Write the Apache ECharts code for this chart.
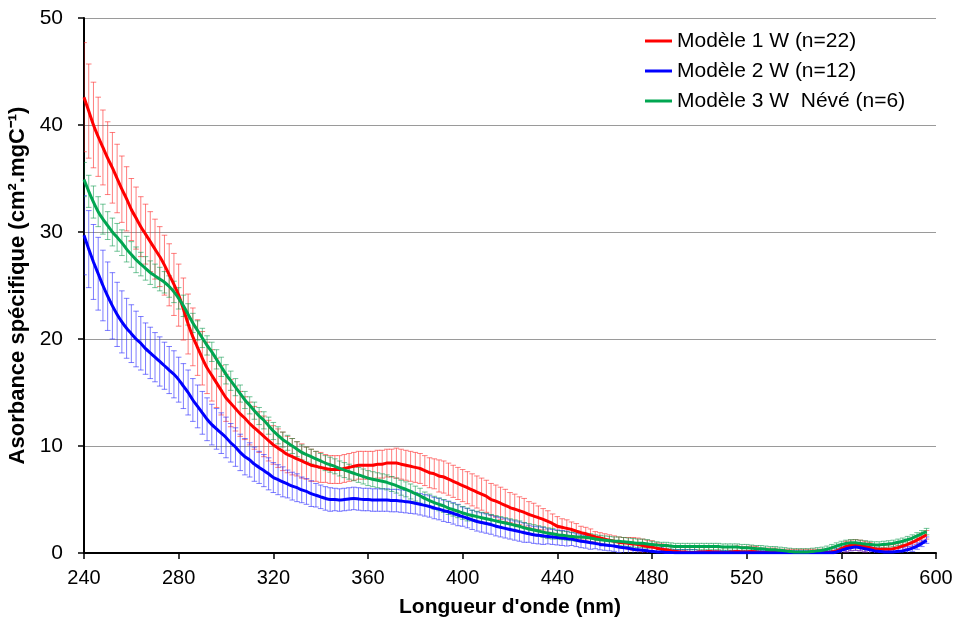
<!DOCTYPE html>
<html><head><meta charset="utf-8">
<script src="https://cdn.jsdelivr.net/npm/echarts@6/dist/echarts.min.js"></script>
<style>html,body{margin:0;padding:0;background:#fff}#c{width:957px;height:619px}</style>
</head><body><div id="c"></div>
<script>
const wavelengths = [
240,242,244,246,248,250,252,254,256,258,
260,262,264,266,268,270,272,274,276,278,
280,282,284,286,288,290,292,294,296,298,
300,302,304,306,308,310,312,314,316,318,
320,322,324,326,328,330,332,334,336,338,
340,342,344,346,348,350,352,354,356,358,
360,362,364,366,368,370,372,374,376,378,
380,382,384,386,388,390,392,394,396,398,
400,402,404,406,408,410,412,414,416,418,
420,422,424,426,428,430,432,434,436,438,
440,442,444,446,448,450,452,454,456,458,
460,462,464,466,468,470,472,474,476,478,
480,482,484,486,488,490,492,494,496,498,
500,502,504,506,508,510,512,514,516,518,
520,522,524,526,528,530,532,534,536,538,
540,542,544,546,548,550,552,554,556,558,
560,562,564,566,568,570,572,574,576,578,
580,582,584,586,588,590,592,594,596
];
const seriesNames = ['Modèle 1 W (n=22)', 'Modèle 2 W (n=12)', 'Modèle 3 W  Névé (n=6)'];

const mean1 = [
42.6,41.3,40.0,38.9,37.9,36.9,36.0,35.0,34.0,33.1,
32.1,31.3,30.5,29.8,29.1,28.4,27.7,26.9,26.0,25.1,
24.1,22.8,21.4,20.2,19.2,18.2,17.3,16.6,15.9,15.2,
14.5,14.0,13.5,13.0,12.6,12.1,11.7,11.3,10.9,10.5,
10.1,9.8,9.5,9.2,9.0,8.8,8.6,8.4,8.2,8.1,
8.0,7.9,7.8,7.8,7.8,7.9,8.0,8.1,8.2,8.2,
8.2,8.2,8.3,8.3,8.4,8.4,8.4,8.3,8.2,8.1,
8.0,7.9,7.7,7.5,7.4,7.2,7.1,6.9,6.7,6.5,
6.3,6.1,5.9,5.7,5.5,5.3,5.0,4.85,4.65,4.45,
4.25,4.1,3.95,3.8,3.6,3.45,3.3,3.15,2.95,2.75,
2.5,2.4,2.3,2.2,2.05,1.9,1.8,1.65,1.5,1.4,
1.3,1.2,1.1,1.0,0.95,0.9,0.85,0.8,0.7,0.6,
0.55,0.45,0.35,0.3,0.2,0.15,0.1,0.1,0.05,0.05,
0.1,0.1,0.15,0.1,0.1,0.05,0.05,0.1,0.15,0.1,
0.1,0.15,0.1,0.05,0.05,0.05,0.05,0.05,0.05,0.05,
0.05,0.05,0.05,0.05,0.05,0.05,0.05,0.05,0.1,0.2,
0.4,0.6,0.72,0.75,0.7,0.6,0.5,0.4,0.35,0.35,
0.35,0.4,0.5,0.65,0.8,1.0,1.2,1.45,1.7
];
const sd1 = [
5.1,4.4,4.0,3.7,3.5,3.4,3.3,3.2,3.1,3.0,
2.9,2.9,2.8,2.8,2.8,2.8,2.8,2.8,2.9,2.9,
2.9,2.9,2.8,2.7,2.6,2.5,2.4,2.4,2.3,2.3,
2.2,2.2,2.1,2.1,2.0,2.0,2.0,1.9,1.9,1.9,
1.8,1.8,1.8,1.7,1.7,1.6,1.6,1.5,1.5,1.4,
1.4,1.3,1.3,1.3,1.3,1.3,1.3,1.3,1.3,1.3,
1.3,1.3,1.3,1.3,1.3,1.3,1.4,1.4,1.4,1.4,
1.4,1.4,1.4,1.4,1.4,1.5,1.5,1.5,1.5,1.5,
1.5,1.5,1.5,1.5,1.5,1.5,1.5,1.5,1.5,1.5,
1.4,1.4,1.3,1.3,1.2,1.2,1.1,1.0,1.0,0.9,
0.9,0.8,0.8,0.7,0.7,0.6,0.6,0.6,0.5,0.5,
0.5,0.5,0.5,0.5,0.5,0.55,0.6,0.6,0.6,0.6,
0.6,0.5,0.5,0.5,0.5,0.5,0.5,0.5,0.5,0.5,
0.5,0.5,0.5,0.5,0.5,0.5,0.5,0.5,0.5,0.5,
0.5,0.5,0.5,0.4,0.4,0.4,0.4,0.3,0.3,0.3,
0.3,0.3,0.3,0.3,0.3,0.3,0.3,0.3,0.3,0.4,
0.4,0.5,0.5,0.5,0.5,0.5,0.5,0.4,0.4,0.4,
0.4,0.4,0.4,0.4,0.4,0.4,0.4,0.4,0.4
];

const mean2 = [
29.7,28.4,27.2,26.1,25.0,24.0,23.1,22.3,21.6,21.0,
20.5,20.0,19.6,19.1,18.7,18.3,17.9,17.5,17.1,16.7,
16.2,15.6,15.0,14.3,13.7,13.1,12.5,12.0,11.6,11.2,
10.8,10.3,9.9,9.4,9.0,8.7,8.3,8.0,7.7,7.4,
7.05,6.85,6.65,6.45,6.25,6.1,5.9,5.75,5.55,5.4,
5.25,5.1,5.0,5.0,4.95,5.0,5.05,5.1,5.05,5.0,
5.0,4.95,4.95,4.95,4.95,4.9,4.9,4.85,4.8,4.75,
4.65,4.55,4.45,4.35,4.2,4.1,3.95,3.85,3.7,3.55,
3.4,3.25,3.1,2.95,2.85,2.75,2.65,2.5,2.4,2.3,
2.2,2.1,2.0,1.9,1.8,1.7,1.65,1.6,1.55,1.5,
1.45,1.4,1.35,1.3,1.2,1.1,1.05,0.95,0.9,0.8,
0.75,0.7,0.65,0.55,0.5,0.45,0.35,0.3,0.25,0.2,
0.15,0.1,0.1,0.05,0.05,0.02,0.02,0.02,0.02,0.02,
0.02,0.02,0.02,0.02,0.02,0.02,0.02,0.02,0.02,0.02,
0.02,0.02,0.02,0.02,0.02,0.02,0.02,0.02,0.02,0.02,
0.02,0.02,0.02,0.02,0.02,0.02,0.02,0.02,0.02,0.1,
0.25,0.4,0.5,0.55,0.5,0.4,0.3,0.2,0.15,0.1,
0.1,0.1,0.15,0.2,0.3,0.45,0.65,0.9,1.2
];
const sd2 = [
3.7,3.6,3.5,3.4,3.3,3.2,3.1,3.0,2.9,2.8,
2.7,2.6,2.5,2.4,2.4,2.3,2.3,2.2,2.2,2.2,
2.1,2.1,2.1,2.0,2.0,2.0,2.0,1.9,1.9,1.9,
1.9,1.8,1.8,1.7,1.7,1.6,1.6,1.5,1.5,1.5,
1.4,1.4,1.4,1.3,1.3,1.3,1.2,1.2,1.2,1.1,
1.1,1.1,1.1,1.05,1.05,1.05,1.05,1.05,1.05,1.05,
1.05,1.05,1.05,1.05,1.05,1.05,1.05,1.05,1.05,1.05,
1.0,1.0,1.0,1.0,1.0,1.0,1.0,1.0,1.0,1.0,
0.9,0.9,0.9,0.9,0.9,0.9,0.9,0.9,0.9,0.9,
0.9,0.9,0.9,0.9,0.8,0.8,0.8,0.8,0.7,0.7,
0.7,0.7,0.7,0.6,0.6,0.6,0.6,0.6,0.5,0.5,
0.5,0.5,0.5,0.5,0.5,0.5,0.5,0.5,0.5,0.5,
0.4,0.4,0.4,0.3,0.3,0.3,0.3,0.3,0.3,0.3,
0.2,0.2,0.2,0.2,0.2,0.2,0.2,0.2,0.2,0.2,
0.2,0.2,0.2,0.2,0.2,0.2,0.2,0.2,0.2,0.2,
0.2,0.2,0.2,0.2,0.2,0.2,0.2,0.2,0.2,0.3,
0.3,0.3,0.3,0.3,0.3,0.3,0.3,0.3,0.3,0.3,
0.3,0.3,0.3,0.3,0.3,0.3,0.3,0.3,0.3
];

const mean3 = [
34.9,33.8,32.8,31.9,31.2,30.6,30.0,29.5,29.0,28.4,
27.9,27.4,27.0,26.6,26.2,25.9,25.6,25.3,24.9,24.4,
23.8,23.1,22.3,21.5,20.8,20.1,19.4,18.8,18.1,17.4,
16.7,16.1,15.5,14.9,14.3,13.8,13.3,12.8,12.4,11.9,
11.4,11.0,10.6,10.3,10.0,9.7,9.4,9.2,9.0,8.8,
8.6,8.4,8.25,8.1,7.9,7.75,7.6,7.45,7.3,7.15,
7.0,6.9,6.8,6.7,6.6,6.45,6.3,6.1,5.95,5.75,
5.55,5.35,5.1,4.9,4.7,4.55,4.4,4.2,4.05,3.9,
3.75,3.6,3.5,3.4,3.3,3.2,3.1,3.0,2.9,2.8,
2.7,2.6,2.5,2.35,2.25,2.15,2.05,1.95,1.85,1.8,
1.7,1.65,1.6,1.55,1.5,1.5,1.45,1.4,1.3,1.25,
1.2,1.15,1.1,1.1,1.05,1.0,0.95,0.9,0.9,0.85,
0.8,0.75,0.7,0.7,0.65,0.6,0.6,0.6,0.6,0.6,
0.6,0.6,0.6,0.6,0.6,0.55,0.55,0.55,0.55,0.5,
0.5,0.45,0.4,0.4,0.35,0.3,0.3,0.25,0.2,0.15,
0.1,0.1,0.1,0.1,0.15,0.2,0.25,0.35,0.5,0.65,
0.8,0.9,0.95,0.95,0.9,0.85,0.8,0.75,0.75,0.8,
0.85,0.9,1.0,1.1,1.25,1.4,1.6,1.8,2.0
];
const sd3 = [
1.6,1.5,1.5,1.4,1.4,1.3,1.3,1.3,1.2,1.2,
1.2,1.2,1.1,1.1,1.1,1.1,1.1,1.0,1.0,1.0,
1.0,1.0,1.0,0.9,0.9,0.9,0.9,0.9,0.9,0.9,
0.9,0.9,0.8,0.8,0.8,0.8,0.8,0.8,0.8,0.8,
0.8,0.8,0.7,0.7,0.7,0.7,0.7,0.7,0.7,0.7,
0.7,0.7,0.7,0.7,0.7,0.7,0.7,0.7,0.7,0.7,
0.7,0.7,0.7,0.7,0.7,0.7,0.7,0.7,0.7,0.7,
0.7,0.7,0.6,0.6,0.6,0.6,0.6,0.6,0.6,0.6,
0.6,0.6,0.5,0.5,0.5,0.5,0.5,0.5,0.5,0.5,
0.5,0.5,0.5,0.5,0.5,0.5,0.5,0.5,0.5,0.5,
0.4,0.4,0.4,0.4,0.4,0.4,0.4,0.4,0.4,0.4,
0.4,0.4,0.4,0.4,0.4,0.4,0.4,0.4,0.4,0.4,
0.3,0.3,0.3,0.3,0.3,0.3,0.3,0.3,0.3,0.3,
0.3,0.3,0.3,0.3,0.3,0.3,0.3,0.3,0.3,0.3,
0.3,0.3,0.3,0.3,0.3,0.3,0.3,0.3,0.3,0.3,
0.3,0.3,0.3,0.3,0.3,0.3,0.3,0.3,0.3,0.3,
0.3,0.3,0.3,0.3,0.3,0.3,0.3,0.3,0.3,0.3,
0.3,0.3,0.3,0.3,0.3,0.3,0.3,0.3,0.3
];

const lineColors = ['#ff0000', '#0000ff', '#00a651'];
const barColors = ['rgba(255,40,40,0.6)', 'rgba(40,40,255,0.6)', 'rgba(0,150,70,0.55)'];
const FONT = '"Liberation Sans", Arial, sans-serif';

const means = [mean1, mean2, mean3];
const sds = [sd1, sd2, sd3];

function errorSeries(idx) {
  const m = means[idx], s = sds[idx];
  const data = wavelengths.map((w, i) => [w, m[i] - s[i], m[i] + s[i]]);
  return {
    type: 'custom',
    name: seriesNames[idx] + ' err',
    data: data,
    clip: true,
    z: 1,
    silent: true,
    encode: { x: 0, y: [1, 2] },
    renderItem: function (params, api) {
      const x = api.value(0);
      const lo = Math.max(0, api.value(1));
      const hi = api.value(2);
      const pHi = api.coord([x, hi]);
      const pLo = api.coord([x, lo]);
      const cw = 2.8;
      const st = { stroke: barColors[idx], lineWidth: 1 };
      const children = [
        { type: 'line', shape: { x1: pHi[0], y1: pHi[1], x2: pLo[0], y2: pLo[1] }, style: st },
        { type: 'line', shape: { x1: pHi[0] - cw, y1: pHi[1], x2: pHi[0] + cw, y2: pHi[1] }, style: st }
      ];
      if (api.value(1) > 0) {
        children.push({ type: 'line', shape: { x1: pLo[0] - cw, y1: pLo[1], x2: pLo[0] + cw, y2: pLo[1] }, style: st });
      }
      return { type: 'group', children: children };
    }
  };
}

function lineSeries(idx) {
  return {
    type: 'line',
    name: seriesNames[idx],
    data: wavelengths.map((w, i) => [w, means[idx][i]]),
    showSymbol: false,
    symbol: 'none',
    smooth: 0.2,
    z: 3 + idx,
    lineStyle: { color: lineColors[idx], width: 3 },
    itemStyle: { color: lineColors[idx] }
  };
}

const chart = echarts.init(document.getElementById('c'), null, { renderer: 'canvas' });
chart.setOption({
  animation: false,
  backgroundColor: '#ffffff',
  textStyle: { fontFamily: FONT },
  grid: { left: 84, right: 21, top: 18, bottom: 66, containLabel: false, outerBoundsMode: 'none' },
  legend: {
    data: seriesNames.map(n => ({ name: n, icon: 'rect' })),
    orient: 'vertical',
    left: 640,
    top: 25,
    itemWidth: 27,
    itemHeight: 3,
    itemGap: 8,
    textStyle: { fontSize: 21, lineHeight: 22, color: '#000', fontFamily: FONT }
  },
  xAxis: {
    type: 'value',
    min: 240, max: 600, interval: 40,
    name: "Longueur d'onde (nm)",
    nameLocation: 'middle',
    nameGap: 44,
    nameTextStyle: { fontSize: 21, fontWeight: 'bold', color: '#000', fontFamily: FONT },
    axisLine: { show: true, onZero: false, lineStyle: { color: '#000', width: 2 } },
    axisTick: { show: true, length: 6, lineStyle: { color: '#000', width: 1.5 } },
    axisLabel: { fontSize: 20, color: '#000', margin: 15, fontFamily: FONT },
    splitLine: { show: false }
  },
  yAxis: {
    type: 'value',
    min: 0, max: 50, interval: 10,
    name: 'Asorbance spécifique (cm².mgC⁻¹)',
    nameLocation: 'middle',
    nameGap: 51,
    nameTextStyle: { fontSize: 22, fontWeight: 'bold', color: '#000', fontFamily: FONT },
    axisLine: { show: true, lineStyle: { color: '#000', width: 2 } },
    axisTick: { show: true, length: 6, lineStyle: { color: '#000', width: 1.5 } },
    axisLabel: { fontSize: 21, color: '#000', margin: 21, fontFamily: FONT },
    splitLine: { show: true, lineStyle: { color: '#9a9a9a', width: 1.2 } }
  },
  series: [
    errorSeries(0), errorSeries(1), errorSeries(2),
    lineSeries(0), lineSeries(1), lineSeries(2)
  ]
});
</script>
</body></html>
